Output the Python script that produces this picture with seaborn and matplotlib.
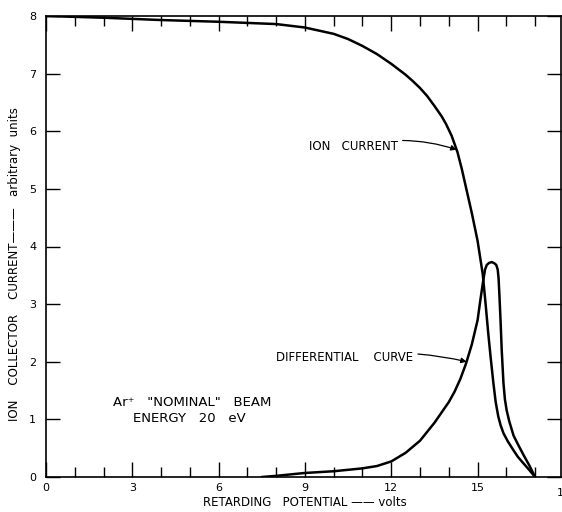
import matplotlib
matplotlib.use("Agg")
import matplotlib.pyplot as plt
import seaborn as sns
import pandas as pd
from matplotlib.ticker import MultipleLocator

# Ion current (integral curve)
ion_x = [0, 2, 4, 6, 8, 9, 10, 10.5, 11, 11.5, 12, 12.5, 12.75, 13, 13.25, 13.5, 13.75,
         13.9, 14.1, 14.3, 14.45, 14.6, 14.8, 15.0, 15.18, 15.28, 15.37, 15.46, 15.55,
         15.63, 15.72, 15.8, 15.9, 16.05, 16.24, 16.4, 16.59, 16.8, 17.0]
ion_y = [8.00, 7.97, 7.93, 7.90, 7.86, 7.80, 7.69, 7.60, 7.48, 7.34, 7.17, 6.98, 6.87,
         6.75, 6.61, 6.44, 6.26, 6.13, 5.92, 5.64, 5.35, 5.02, 4.58, 4.10, 3.52, 3.00,
         2.50, 2.05, 1.63, 1.30, 1.05, 0.90, 0.76, 0.62, 0.47, 0.35, 0.24, 0.12, 0.00]

# Differential curve
diff_x = [7.5, 8, 9, 10, 11, 11.5, 12, 12.5, 13, 13.5, 14, 14.2, 14.4, 14.6, 14.8, 15.0,
          15.1, 15.2, 15.26, 15.32, 15.4, 15.49, 15.58, 15.65, 15.7, 15.73, 15.76, 15.8,
          15.84, 15.9, 15.95, 16.01, 16.1, 16.25, 16.4, 16.6, 16.8, 17.0]
diff_y = [0.00, 0.02, 0.07, 0.10, 0.15, 0.19, 0.27, 0.42, 0.63, 0.94, 1.30, 1.48, 1.70,
          1.97, 2.30, 2.72, 3.08, 3.42, 3.60, 3.68, 3.715, 3.73, 3.71, 3.68, 3.60, 3.45,
          3.15, 2.70, 2.20, 1.63, 1.35, 1.16, 0.97, 0.72, 0.57, 0.38, 0.20, 0.00]

x_ticks = [0, 3, 6, 9, 12, 15]
x_tick_labels = ["0", "3", "6", "9", "12", "15"]
y_ticks = [0, 1, 2, 3, 4, 5, 6, 7, 8]

ion_df = pd.DataFrame({"v": ion_x, "i": ion_y})
diff_df = pd.DataFrame({"v": diff_x, "i": diff_y})

sns.set_style("ticks")
plt.rcParams["font.family"] = ["DejaVu Sans"]
plt.rcParams["text.color"] = "black"
plt.rcParams["xtick.color"] = "black"
plt.rcParams["ytick.color"] = "black"
plt.rcParams["axes.labelcolor"] = "black"

fig = plt.figure(figsize=(5.62, 5.12), dpi=100)
W, H = 562, 512
ax = fig.add_axes([46 / W, 1 - 477 / H, (561 - 46) / W, (477 - 16) / H])

sns.lineplot(data=ion_df, x="v", y="i", sort=False, estimator=None, color="black",
             lw=1.8, ax=ax)
sns.lineplot(data=diff_df, x="v", y="i", sort=False, estimator=None, color="black",
             lw=1.8, ax=ax)
for ln in ax.lines:
    ln.set_solid_joinstyle("round")
    ln.set_solid_capstyle("round")

ax.set_xlim(0, 17.9)
ax.set_ylim(0, 8)
ax.set_xticks(x_ticks)
ax.set_xticklabels(x_tick_labels)
ax.xaxis.set_minor_locator(MultipleLocator(1))
ax.set_yticks(y_ticks)
ax.set_yticklabels([str(t) for t in y_ticks])
ax.tick_params(axis="x", which="major", direction="in", length=11, width=1.0,
               top=True, bottom=True, labelsize=8, pad=4)
ax.tick_params(axis="x", which="minor", direction="in", length=7, width=1.0,
               top=True, bottom=True)
ax.tick_params(axis="y", which="major", direction="in", length=10, width=1.0,
               left=True, right=True, labelsize=8, pad=7)
for s in ax.spines.values():
    s.set_visible(True)
    s.set_linewidth(1.2)
    s.set_color("black")

ax.set_xlabel("")
ax.set_ylabel("")
# partially visible "18" tick label at the right edge (cut in the reference too)
ax.text(18, -0.19, "18", ha="center", va="top", fontsize=8, clip_on=False)

fig.text(305 / W, 1 - 502 / H, "RETARDING   POTENTIAL \u2014\u2014 volts",
         ha="center", va="center", fontsize=8.5)
fig.text(15 / W, 1 - 264 / H,
         "ION    COLLECTOR    CURRENT\u2014\u2014\u2014   arbitrary  units",
         ha="center", va="center", rotation=90, fontsize=8.5)

ax.annotate("ION   CURRENT", xy=(14.27, 5.68), xytext=(9.14, 5.73),
            ha="left", va="center", fontsize=8.5,
            arrowprops=dict(arrowstyle="-|>", color="black", lw=0.9,
                            connectionstyle="arc3,rad=-0.15", shrinkA=1, shrinkB=0,
                            mutation_scale=8))
ax.annotate("DIFFERENTIAL    CURVE", xy=(14.62, 2.0), xytext=(8.0, 2.08),
            ha="left", va="center", fontsize=8.5,
            arrowprops=dict(arrowstyle="-|>", color="black", lw=0.9,
                            connectionstyle="arc3,rad=-0.1", shrinkA=1, shrinkB=0,
                            mutation_scale=8))
ax.text(5.08, 1.3, "Ar\u207a   \"NOMINAL\"   BEAM", ha="center", va="center", fontsize=9.5)
ax.text(5.0, 1.02, "ENERGY   20   eV", ha="center", va="center", fontsize=9.5)

fig.savefig("out.png", dpi=100)
